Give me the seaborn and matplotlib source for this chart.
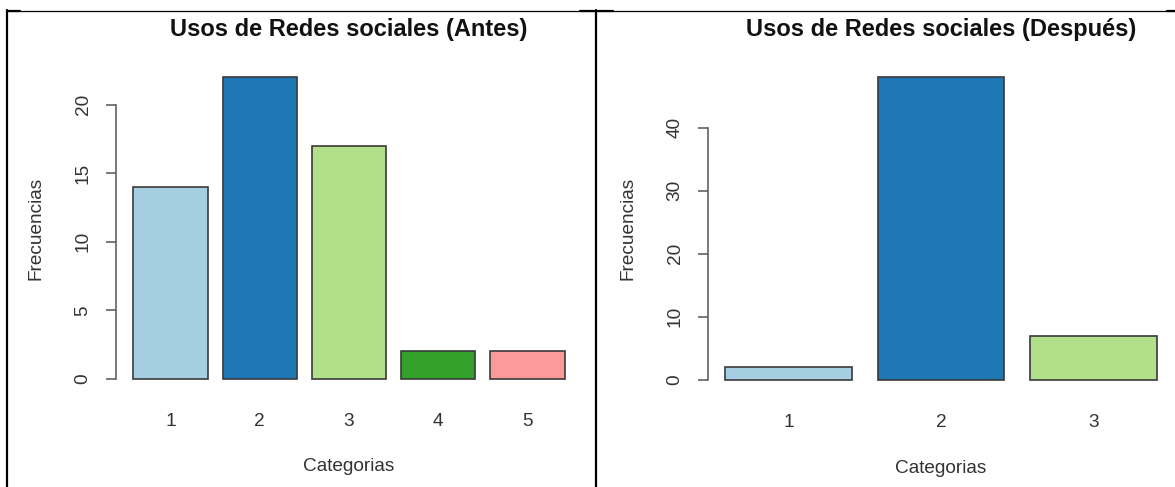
import matplotlib
matplotlib.use("Agg")
import matplotlib.pyplot as plt
from matplotlib.lines import Line2D
import pandas as pd
import seaborn as sns

# Datos
cat_antes = ["1", "2", "3", "4", "5"]
frec_antes = [14, 22, 17, 2, 2]
yticks_antes = [0, 5, 10, 15, 20]

cat_despues = ["1", "2", "3"]
frec_despues = [2, 48, 7]
yticks_despues = [0, 10, 20, 30, 40]

colores = sns.color_palette("Paired", 5)

sns.set_style("white")
plt.rcParams['font.family'] = ['Liberation Sans', 'DejaVu Sans']

W, H = 1175, 487
fig = plt.figure(figsize=(W / 100, H / 100), dpi=100)


def px_axes(x0, x1, ytop, ybot):
    return fig.add_axes([x0 / W, 1 - ybot / H, (x1 - x0) / W, (ybot - ytop) / H])


def r_barplot(ax, cats, vals, ticks, title):
    df = pd.DataFrame({'Categorias': cats, 'Frecuencias': vals})
    sns.barplot(data=df, x='Categorias', y='Frecuencias', hue='Categorias',
                palette=colores[:len(cats)], legend=False, width=1 / 1.2,
                saturation=1, edgecolor='#3a3a3a', linewidth=1.2, ax=ax)
    n = len(cats)
    half = 0.5 / 1.2
    span = (n - 1) + 2 * half
    ax.set_xlim(-half - 0.04 * span, n - 1 + half + 0.04 * span)
    top = max(vals)
    ax.set_ylim(-0.04 * top, top * 1.04)
    ax.set_yticks(ticks)
    for s in ['top', 'right', 'bottom']:
        ax.spines[s].set_visible(False)
    ax.spines['left'].set_bounds(ticks[0], ticks[-1])
    ax.spines['left'].set_color('#555555')
    ax.spines['left'].set_linewidth(1.1)
    ax.tick_params(axis='y', left=True, length=7.5, width=1.1, color='#555555', pad=10,
                   labelsize=13.7, labelcolor='#333333')
    ax.tick_params(axis='x', bottom=False, length=0, pad=16, labelsize=13.7,
                   labelcolor='#333333')
    for lab in ax.get_yticklabels():
        lab.set_rotation(90)
        lab.set_va('center')
    ax.set_xlabel('Categorias', fontsize=13.7, color='#333333')
    ax.set_ylabel('Frecuencias', fontsize=13.7, color='#333333')
    ax.xaxis.set_label_coords(0.5, -0.233)
    ax.xaxis.label.set_va('center')
    ax.yaxis.set_label_coords(-0.172, 0.5)
    ax.yaxis.label.set_va('center')
    ax.set_title(title, fontsize=17, fontweight='bold', color='#111111',
                 y=1 + 35 / 326, va='center', pad=0)


ax1 = px_axes(116, 582, 65, 391)
r_barplot(ax1, cat_antes, frec_antes, yticks_antes, 'Usos de Redes sociales (Antes)')

ax2 = px_axes(708, 1174, 65, 392)
r_barplot(ax2, cat_despues, frec_despues, yticks_despues, 'Usos de Redes sociales (Después)')


# Bordes de la tabla
def linea(x0, y0, x1, y1, lw):
    fig.add_artist(Line2D([x0 / W, x1 / W], [1 - y0 / H, 1 - y1 / H],
                          transform=fig.transFigure, color='black', linewidth=lw))


linea(7, 10.7, 1175, 10.7, 0.9)
linea(7, 10.7, 20, 10.7, 1.6)
linea(580, 10.7, 613, 10.7, 1.6)
linea(1167, 10.7, 1175, 10.7, 1.6)
linea(7, 10, 7, 487, 1.6)
linea(595.7, 10, 595.7, 487, 1.6)

fig.savefig('out.png', dpi=100)
